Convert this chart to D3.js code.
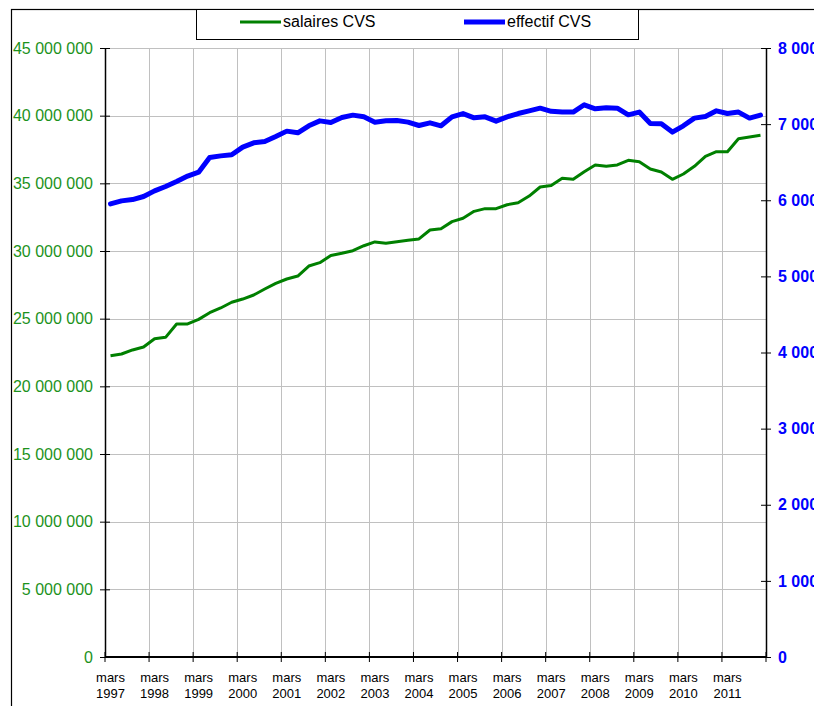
<!DOCTYPE html>
<html>
<head>
<meta charset="utf-8">
<script src="https://cdn.jsdelivr.net/npm/d3@7"></script>
<style>
body{margin:0;background:#fff;}
svg{display:block;font-family:"Liberation Sans",Arial,sans-serif;}
</style>
</head>
<body>
<div id="chart"></div>
<script>
// trimestres de mars 1997 a decembre 2011
var years=[1997,1998,1999,2000,2001,2002,2003,2004,2005,2006,2007,2008,2009,2010,2011];
var quarters=[];
years.forEach(function(y){["mars","juin","sept","dec"].forEach(function(m){quarters.push(m+" "+y);});});

var salaires=[22.26,22.39,22.69,22.91,23.52,23.62,24.61,24.61,24.95,25.44,25.79,26.21,26.45,26.75,27.19,27.61,
  27.93,28.15,28.89,29.14,29.67,29.83,30.02,30.39,30.67,30.57,30.69,30.79,30.89,31.55,31.65,32.17,
  32.42,32.93,33.13,33.13,33.42,33.57,34.06,34.73,34.84,35.37,35.30,35.86,36.36,36.26,36.36,36.70,
  36.60,36.06,35.84,35.30,35.69,36.26,37.00,37.34,37.34,38.30,38.42,38.55].map(function(v){return v*1e6;});

var effectif=[5952,5992,6009,6049,6123,6180,6246,6317,6369,6561,6583,6597,6698,6754,6771,6837,
  6908,6886,6978,7043,7021,7087,7118,7096,7026,7043,7047,7026,6982,7017,6978,7096,
  7139,7083,7096,7039,7096,7139,7175,7210,7168,7158,7158,7254,7201,7214,7210,7122,
  7158,7008,7004,6895,6978,7079,7100,7175,7139,7158,7079,7118];

var leftTicks=d3.range(0,45000001,5000000);
var rightTicks=d3.range(0,8001,1000);

var width=814,height=706;
var margin={left:105,right:48,top:48,bottom:49};
var green="#008000",labelGreen="#1c921c",blue="#0000ff";

var fr=d3.formatLocale({decimal:",",thousands:" ",grouping:[3],currency:["","€"]});
var fmt=fr.format(",");

var svg=d3.select("#chart").append("svg")
    .attr("width",width)
    .attr("height",height);

var x=d3.scaleBand().domain(quarters).range([margin.left,width-margin.right]).padding(0);
var yL=d3.scaleLinear().domain([0,45000000]).range([height-margin.bottom,margin.top]);
var yR=d3.scaleLinear().domain([0,8000]).range([height-margin.bottom,margin.top]);
var x0=margin.left,x1=width-margin.right,yb=height-margin.bottom;

// cadre exterieur
svg.append("rect").attr("x",11.5).attr("y",9.5).attr("width",900).attr("height",800)
   .attr("fill","none").attr("stroke","#000").attr("stroke-width",1.2);

// grille
var yearStarts=quarters.filter(function(q,i){return i%4==0;});
svg.append("g").selectAll("line").data(leftTicks.slice(1)).enter().append("line")
   .attr("x1",x0).attr("x2",x1)
   .attr("y1",function(d){return Math.round(yL(d))+0.5;}).attr("y2",function(d){return Math.round(yL(d))+0.5;})
   .attr("stroke","#c0c0c0");
svg.append("g").selectAll("line").data(yearStarts.slice(1)).enter().append("line")
   .attr("x1",function(d){return Math.round(x(d))+0.5;}).attr("x2",function(d){return Math.round(x(d))+0.5;})
   .attr("y1",margin.top).attr("y2",yb)
   .attr("stroke","#c0c0c0");

// axe gauche
var gL=svg.append("g").attr("transform","translate("+x0+",0)")
   .call(d3.axisLeft(yL).tickValues(leftTicks).tickFormat(fmt).tickSizeInner(5).tickSizeOuter(0).tickPadding(7));
gL.select(".domain").attr("stroke","#000").attr("stroke-width",1.5);
gL.selectAll(".tick line").attr("x1",5).attr("stroke","#000");
gL.selectAll("text").attr("fill",labelGreen).style("font-size","16px");

// axe droit
var gR=svg.append("g").attr("transform","translate("+x1+",0)")
   .call(d3.axisRight(yR).tickValues(rightTicks).tickFormat(fmt).tickSizeInner(5).tickSizeOuter(0).tickPadding(7));
gR.select(".domain").attr("stroke","#000").attr("stroke-width",1.5);
gR.selectAll(".tick line").attr("x1",-5).attr("stroke","#000");
gR.selectAll("text").attr("fill",blue).style("font-size","16px").style("font-weight","bold");

// axe du bas
var xTicks=yearStarts.map(function(q){return x(q);}).concat([x1]);
svg.append("line").attr("x1",x0).attr("x2",x1).attr("y1",yb).attr("y2",yb)
   .attr("stroke","#000").attr("stroke-width",2);
svg.append("g").selectAll("line").data(xTicks).enter().append("line")
   .attr("x1",function(d){return d;}).attr("x2",function(d){return d;})
   .attr("y1",yb-5).attr("y2",yb+5).attr("stroke","#000");
var lab=svg.append("g").selectAll("text").data(yearStarts).enter().append("text")
   .attr("text-anchor","middle").style("font-size","13px").attr("fill","#000");
lab.append("tspan").attr("x",function(d){return x(d)+x.bandwidth()/2;}).attr("y",682)
   .text(function(d){return d.split(" ")[0];});
lab.append("tspan").attr("x",function(d){return x(d)+x.bandwidth()/2;}).attr("y",698)
   .text(function(d){return d.split(" ")[1];});

// courbes
var cx=function(d,i){return x(quarters[i])+x.bandwidth()/2;};
svg.append("path").datum(salaires)
   .attr("fill","none").attr("stroke",green).attr("stroke-width",3).attr("stroke-linejoin","round")
   .attr("d",d3.line().x(cx).y(function(d){return yL(d);}));
svg.append("path").datum(effectif)
   .attr("fill","none").attr("stroke",blue).attr("stroke-width",5).attr("stroke-linejoin","round").attr("stroke-linecap","round")
   .attr("d",d3.line().x(cx).y(function(d){return yR(d);}));

// legende
var leg=svg.append("g");
leg.append("rect").attr("x",196.5).attr("y",9.5).attr("width",442).attr("height",30)
   .attr("fill","#fff").attr("stroke","#000");
var items=[{name:"salaires CVS",color:green,w:3,x:240},{name:"effectif CVS",color:blue,w:5,x:464}];
items.forEach(function(it){
  leg.append("line").attr("x1",it.x).attr("x2",it.x+41).attr("y1",22).attr("y2",22)
     .attr("stroke",it.color).attr("stroke-width",it.w);
  leg.append("text").attr("x",it.x+43).attr("y",27).style("font-size","16px").attr("fill","#000").text(it.name);
});
</script>
</body>
</html>
